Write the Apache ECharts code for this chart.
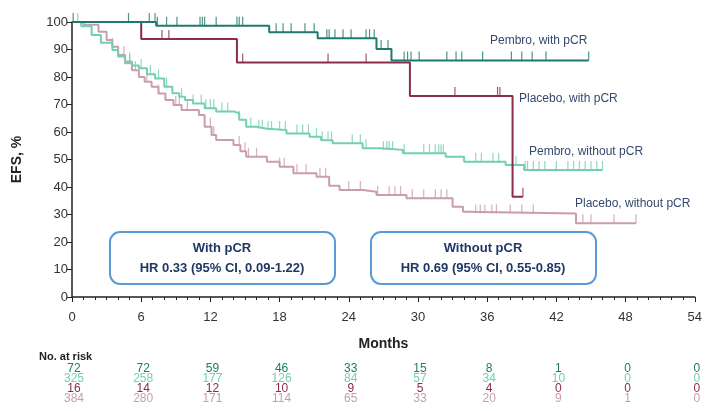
<!DOCTYPE html>
<html>
<head>
<meta charset="utf-8">
<script src="https://cdn.jsdelivr.net/npm/echarts@6/dist/echarts.min.js"></script>
<style>
  html, body { margin: 0; padding: 0; background: #fff; }
  #main { width: 705px; height: 411px; }
</style>
</head>
<body>
<div id="main"></div>
<script>
// KM curves: time (months) and EFS (%) after each step
const pembroPcrT = [0, 7.3, 17.1, 21.3, 26.4, 27.7, 44.8];
const pembroPcrS = [100, 98.6, 96.3, 94.1, 90.2, 86.0, 86.0];
const pembroPcrCens = [0.1, 4.9, 6.7, 7.2, 7.4, 8.2, 9.1, 11.1, 11.3, 11.5, 12.5, 14.3, 14.5, 14.8, 17.7, 18.3, 19.0, 20.2, 21.0, 22.1, 22.3, 22.8, 23.5, 24.2, 25.5, 25.8, 26.2, 26.8, 27.4, 28.8, 29.1, 29.4, 30.1, 32.5, 33.3, 33.8, 35.6, 38.1, 39.0, 39.9, 41.1, 44.8];

const placeboPcrT = [0, 6.0, 14.3, 29.3, 38.2, 39.1];
const placeboPcrS = [100, 93.8, 85.3, 73.1, 36.5, 36.5];
const placeboPcrCens = [7.8, 8.4, 14.8, 22.2, 25.5, 33.2, 36.9, 37.1, 39.1];

const pembroNoT = [0, 0.8, 1.7, 2.5, 3.5, 4.0, 4.6, 5.2, 5.8, 6.5, 7.2, 8.0, 8.7, 9.3, 9.8, 10.5, 11.5, 12.5, 14.0, 14.5, 15.1, 16.0, 16.9, 18.6, 20.6, 21.6, 22.6, 25.2, 26.7, 28.7, 32.4, 34.0, 37.6, 39.2, 46.0];
const pembroNoS = [100, 98.5, 95.3, 92.5, 89.8, 87.5, 85.6, 84.2, 83.2, 81.0, 79.5, 76.5, 74.1, 72.8, 71.6, 70.4, 68.6, 67.5, 66.8, 64.5, 61.9, 61.2, 60.7, 59.5, 58.3, 57.0, 55.9, 54.1, 53.5, 52.3, 51.0, 49.2, 48.0, 46.2, 46.2];
const pembroNoCens = [0.5, 5.0, 6.0, 6.8, 7.5, 8.2, 9.5, 10.5, 11.2, 11.6, 12.0, 12.3, 13.0, 13.5, 14.5, 15.5, 16.2, 16.5, 17.0, 17.3, 18.0, 18.5, 19.5, 20.0, 20.5, 21.2, 21.7, 22.2, 22.5, 24.3, 25.0, 25.5, 27.0, 27.3, 27.5, 27.8, 28.8, 30.5, 31.0, 31.5, 31.8, 32.0, 32.2, 35.0, 35.5, 36.5, 37.0, 38.5, 39.3, 39.5, 40.0, 40.5, 41.0, 42.0, 43.0, 43.5, 44.0, 44.5, 45.0, 45.5, 46.0];

const placeboNoT = [0, 1.0, 2.3, 3.0, 3.5, 4.0, 4.6, 5.2, 5.8, 6.3, 6.9, 7.5, 8.1, 8.8, 9.5, 11.0, 11.5, 12.1, 12.5, 14.0, 14.6, 15.1, 16.9, 18.0, 19.2, 21.2, 22.3, 23.2, 25.2, 26.4, 29.0, 33.0, 33.9, 34.2, 43.7, 48.9];
const placeboNoS = [100, 99.0, 96.5, 93.5, 91.0, 88.0, 85.0, 82.5, 80.0, 78.3, 76.5, 74.0, 71.6, 69.8, 68.0, 66.2, 61.9, 58.9, 57.1, 55.3, 53.0, 51.0, 49.2, 47.4, 45.0, 43.7, 40.5, 38.9, 38.3, 37.1, 35.9, 32.8, 31.0, 30.4, 26.8, 26.8];
const placeboNoCens = [3.5, 4.0, 4.5, 5.0, 5.5, 6.5, 7.5, 9.0, 9.3, 10.0, 12.0, 12.3, 14.5, 15.0, 15.3, 16.0, 18.0, 18.4, 19.5, 20.3, 21.5, 22.0, 24.0, 25.0, 26.5, 27.5, 28.0, 28.5, 29.5, 30.5, 31.5, 32.0, 32.5, 35.0, 35.4, 35.8, 36.4, 36.8, 38.0, 39.0, 40.0, 44.3, 45.0, 47.0, 48.9];

// Number at risk
const riskMonths = [0, 6, 12, 18, 24, 30, 36, 42, 48, 54];
const riskPembroPcr = [72, 72, 59, 46, 33, 15, 8, 1, 0, 0];
const riskPembroNo = [325, 258, 177, 126, 84, 57, 34, 10, 0, 0];
const riskPlaceboPcr = [16, 14, 12, 10, 9, 5, 4, 0, 0, 0];
const riskPlaceboNo = [384, 280, 171, 114, 65, 33, 20, 9, 1, 0];

const FONT = 'Liberation Sans, Arial, sans-serif';
const cDark = '#1e7a6c', cMint = '#72d1ac', cMaroon = '#8a2c4a', cPink = '#c99cb0';

function km(T, S, t) {
  let v = S[0];
  for (let i = 0; i < T.length; i++) { if (T[i] <= t) v = S[i]; }
  return v;
}

function curve(T, S, color, width) {
  return {
    type: 'line', step: 'end', showSymbol: false, silent: true,
    data: T.map((t, i) => [t, S[i]]),
    lineStyle: { color: color, width: width }
  };
}

function censors(T, S, C, color) {
  return {
    type: 'scatter', silent: true, symbol: 'rect',
    symbolSize: [1.2, 9], symbolOffset: [0, -4.5],
    itemStyle: { color: color },
    data: C.map(t => [t, km(T, S, t)])
  };
}

const chart = echarts.init(document.getElementById('main'), null, { renderer: 'canvas' });

chart.setOption({
  animation: false,
  backgroundColor: '#fff',
  grid: { left: 72, right: 10, top: 22, bottom: 114 },
  xAxis: {
    type: 'value', min: 0, max: 54, interval: 6,
    name: 'Months', nameLocation: 'middle', nameGap: 40,
    nameTextStyle: { fontFamily: FONT, fontWeight: 'bold', fontSize: 14, color: '#222' },
    axisLine: { lineStyle: { color: '#222', width: 1.5 } },
    axisTick: { length: 5, lineStyle: { color: '#222' } },
    minorTick: { show: true, splitNumber: 6, length: 3, lineStyle: { color: '#222' } },
    axisLabel: { fontFamily: FONT, fontSize: 13, color: '#333', margin: 14 },
    splitLine: { show: false }
  },
  yAxis: {
    type: 'value', min: 0, max: 100, interval: 10,
    name: 'EFS, %', nameLocation: 'middle', nameGap: 48,
    nameTextStyle: { fontFamily: FONT, fontWeight: 'bold', fontSize: 14, color: '#222' },
    axisLine: { show: true, lineStyle: { color: '#222', width: 1.5 } },
    axisTick: { show: true, length: 5, lineStyle: { color: '#222' } },
    axisLabel: { fontFamily: FONT, fontSize: 13, color: '#333', margin: 4 },
    splitLine: { show: false }
  },
  series: [
    curve(placeboNoT, placeboNoS, cPink, 2),
    censors(placeboNoT, placeboNoS, placeboNoCens, cPink),
    curve(pembroNoT, pembroNoS, cMint, 2),
    censors(pembroNoT, pembroNoS, pembroNoCens, cMint),
    curve(placeboPcrT, placeboPcrS, cMaroon, 2),
    censors(placeboPcrT, placeboPcrS, placeboPcrCens, cMaroon),
    curve(pembroPcrT, pembroPcrS, cDark, 2),
    censors(pembroPcrT, pembroPcrS, pembroPcrCens, cDark)
  ]
});

// curve labels, hazard ratio boxes and the at-risk table
const labelColor = '#34496e';
const graphics = [
  { type: 'text', left: 490, top: 35, style: { text: 'Pembro, with pCR', fill: labelColor, font: '12px ' + FONT } },
  { type: 'text', left: 519, top: 93, style: { text: 'Placebo, with pCR', fill: labelColor, font: '12px ' + FONT } },
  { type: 'text', left: 529, top: 146, style: { text: 'Pembro, without pCR', fill: labelColor, font: '12px ' + FONT } },
  { type: 'text', left: 575, top: 198, style: { text: 'Placebo, without pCR', fill: labelColor, font: '12px ' + FONT } },
  { type: 'rect', shape: { x: 110, y: 232, width: 225, height: 52, r: 10 }, style: { fill: '#fff', stroke: '#5b9bd5', lineWidth: 2 } },
  { type: 'rect', shape: { x: 371, y: 232, width: 225, height: 52, r: 10 }, style: { fill: '#fff', stroke: '#5b9bd5', lineWidth: 2 } },
  { type: 'text', x: 222, y: 248, style: { text: 'With pCR', fill: '#1f3864', font: 'bold 13px ' + FONT, textAlign: 'center', textVerticalAlign: 'middle' } },
  { type: 'text', x: 222, y: 268, style: { text: 'HR 0.33 (95% CI, 0.09-1.22)', fill: '#1f3864', font: 'bold 13px ' + FONT, textAlign: 'center', textVerticalAlign: 'middle' } },
  { type: 'text', x: 483, y: 248, style: { text: 'Without pCR', fill: '#1f3864', font: 'bold 13px ' + FONT, textAlign: 'center', textVerticalAlign: 'middle' } },
  { type: 'text', x: 483, y: 268, style: { text: 'HR 0.69 (95% CI, 0.55-0.85)', fill: '#1f3864', font: 'bold 13px ' + FONT, textAlign: 'center', textVerticalAlign: 'middle' } },
  { type: 'text', x: 39, y: 357, style: { text: 'No. at risk', fill: '#222', font: 'bold 11px ' + FONT, textVerticalAlign: 'middle' } }
];

const riskRows = [
  [riskPembroPcr, cDark, 369],
  [riskPembroNo, cMint, 379],
  [riskPlaceboPcr, cMaroon, 389],
  [riskPlaceboNo, cPink, 399]
];
riskRows.forEach(([vals, color, y]) => {
  vals.forEach((v, i) => {
    const px = chart.convertToPixel({ xAxisIndex: 0 }, riskMonths[i]) + 2;
    graphics.push({
      type: 'text', x: px, y: y,
      style: { text: String(v), fill: color, font: '12px Liberation Sans Narrow, ' + FONT, textAlign: 'center', textVerticalAlign: 'middle' }
    });
  });
});

chart.setOption({ graphic: graphics });
</script>
</body>
</html>
